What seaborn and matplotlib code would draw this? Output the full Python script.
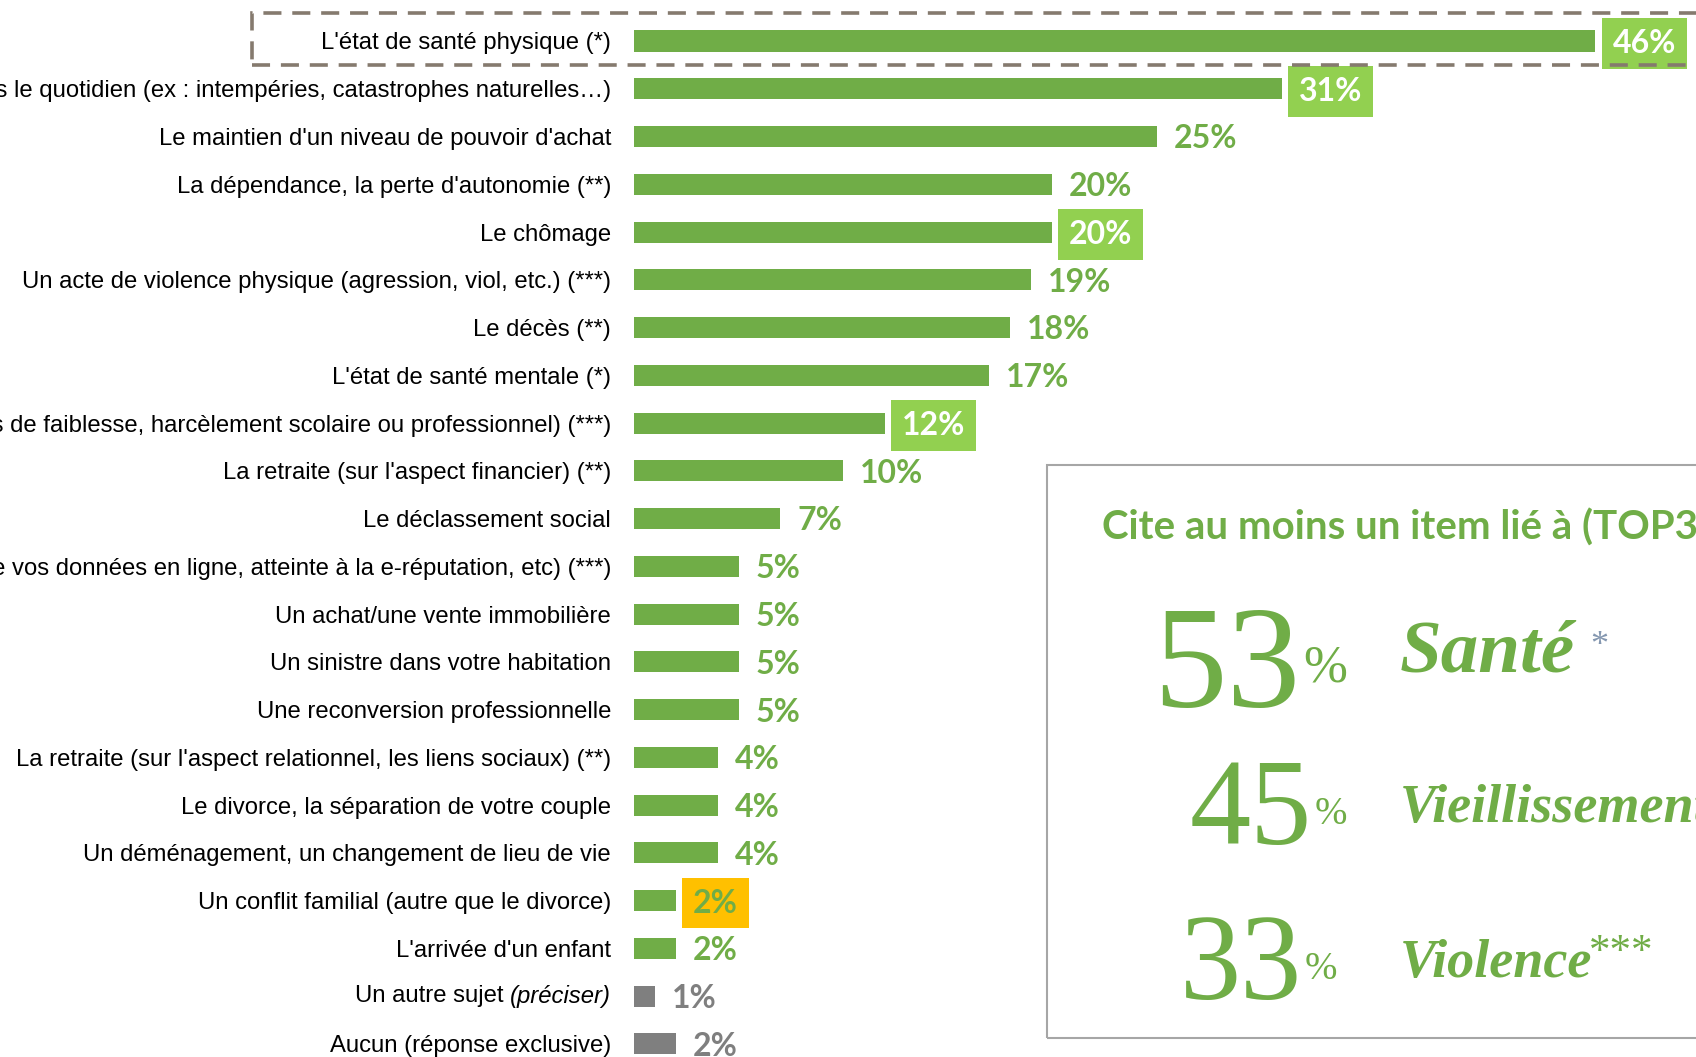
import matplotlib
matplotlib.use("Agg")
import matplotlib.pyplot as plt
import seaborn as sns
import pandas as pd
from matplotlib.patches import Rectangle

# ---- données ----
labels = [
    "L'état de santé physique (*)",
    "Les aléas climatiques dans le quotidien (ex : intempéries, catastrophes naturelles…)",
    "Le maintien d'un niveau de pouvoir d'achat",
    "La dépendance, la perte d'autonomie (**)",
    "Le chômage",
    "Un acte de violence physique (agression, viol, etc.) (***)",
    "Le décès (**)",
    "L'état de santé mentale (*)",
    "Un acte de violence morale (abus de faiblesse, harcèlement scolaire ou professionnel) (***)",
    "La retraite (sur l'aspect financier) (**)",
    "Le déclassement social",
    "Un acte de cyberviolence (vol de vos données en ligne, atteinte à la e-réputation, etc) (***)",
    "Un achat/une vente immobilière",
    "Un sinistre dans votre habitation",
    "Une reconversion professionnelle",
    "La retraite (sur l'aspect relationnel, les liens sociaux) (**)",
    "Le divorce, la séparation de votre couple",
    "Un déménagement, un changement de lieu de vie",
    "Un conflit familial (autre que le divorce)",
    "L'arrivée d'un enfant",
    "Un autre sujet (préciser)",
    "Aucun (réponse exclusive)",
]
values = [46, 31, 25, 20, 20, 19, 18, 17, 12, 10, 7, 5, 5, 5, 5, 4, 4, 4, 2, 2, 1, 2]
# mise en valeur des étiquettes : "vert" = fond vert clair, "jaune" = fond orange
highlight = ["vert", "vert", "", "", "vert", "", "", "", "vert", "", "", "", "", "",
             "", "", "", "", "jaune", "", "", ""]
grey_rows = ["Un autre sujet (préciser)", "Aucun (réponse exclusive)"]

top_pcts = ["53", "45", "33"]
top_words = ["Santé", "Vieillissement", "Violence"]

GREEN = "#70AD47"
LIGHT = "#92D050"
GREY = "#7F7F7F"
ORANGE = "#FFC000"

W, H = 1696, 1057
fig = plt.figure(figsize=(W / 100, H / 100), dpi=100)
sns.set_style("white")
plt.rcParams["font.family"] = ["Liberation Sans", "DejaVu Sans"]


def fx(x):
    return x / W


def fy(y):
    return 1 - y / H


# axe des barres : gauche à 634 px, 20.9 px par point
px_per = 20.9
row = 47.76
ax_left, ax_top = 634, 41 - row / 2
ax_bottom = ax_top + row * len(labels)
ax = fig.add_axes([fx(ax_left), fy(ax_bottom), 1 - fx(ax_left), (ax_bottom - ax_top) / H])

df = pd.DataFrame({"label": labels, "value": values})
colors = [GREY if l in grey_rows else GREEN for l in labels]
sns.barplot(data=df, x="value", y="label", hue="label", palette=colors, legend=False,
            width=0.44, saturation=1, linewidth=0, ax=ax)
ax.set_xlim(0, (W - ax_left) / px_per)
ax.set_ylim(len(labels) - 0.5, -0.5)
ax.set_xlabel("")
ax.set_ylabel("")
ax.set_xticks([])
sns.despine(ax=ax, left=True, bottom=True)
lab_size = 17.2
ax.tick_params(axis="y", length=0, pad=16.5, labelsize=lab_size, labelcolor="black")

# libellé avec partie en italique
tl = ax.get_yticklabels()
for t in tl:
    if t.get_text() == "Un autre sujet (préciser)":
        t.set_text("")
ax.set_yticklabels([t.get_text() for t in tl])
idx = labels.index("Un autre sujet (préciser)")
it = ax.annotate("(préciser)", xy=(0, idx), xycoords=("axes fraction", "data"),
                 xytext=(-16.5, 0), textcoords="offset points", ha="right", va="center",
                 fontsize=lab_size, style="italic", color="black")
ax.annotate("Un autre sujet ", xy=(0, 0.5), xycoords=it, ha="right", va="center",
            fontsize=lab_size, color="black")

# étiquettes de valeurs
gap = 17 / px_per
for i, (v, h, l) in enumerate(zip(values, highlight, labels)):
    col = GREY if l in grey_rows else GREEN
    kw = dict(fontsize=23, fontweight="bold", family=["Lato", "DejaVu Sans"],
              va="center", ha="left")
    y = i + 0.05
    if h == "vert":
        ax.text(v + gap, y, f"{v}%", color="white",
                bbox=dict(boxstyle="square,pad=0.34", fc=LIGHT, ec="none"), **kw)
    elif h == "jaune":
        ax.text(v + gap, y, f"{v}%", color=GREEN,
                bbox=dict(boxstyle="square,pad=0.34", fc=ORANGE, ec="none"), **kw)
    else:
        ax.text(v + gap, y, f"{v}%", color=col, **kw)

# cadre pointillé autour de la première ligne
fig.patches.append(Rectangle((fx(252), fy(65)), fx(1800) - fx(252), (65 - 13) / H,
                             transform=fig.transFigure, fill=False, ec="#857A6E",
                             lw=2.6, ls=(0, (5, 3)), zorder=0))

# encadré de droite
fig.patches.append(Rectangle((fx(1047), fy(1038)), fx(1800) - fx(1047), (1038 - 465) / H,
                             transform=fig.transFigure, fill=False, ec="#A6A6A6",
                             lw=1.5, zorder=0))
fig.text(fx(1102), fy(540), "Cite au moins un item lié à (TOP3)", color=GREEN,
         fontsize=29, fontweight="bold", family=["Lato", "DejaVu Sans"], va="baseline")

serif = ["Liberation Serif", "DejaVu Serif"]
num_x = [1300, 1312, 1302]
base_y = [707, 844, 999]
num_size = [106, 88, 88]
pct_size = [38, 28, 28]
word_size = [54, 39, 39]
word_base = [671, 822, 977]
for k in range(3):
    fig.text(fx(num_x[k]), fy(base_y[k]), top_pcts[k], color=GREEN, fontsize=num_size[k],
             family=serif, ha="right", va="baseline")
    fig.text(fx(num_x[k] + 3), fy(base_y[k] - (26 if k == 0 else 20)), "%", color=GREEN,
             fontsize=pct_size[k], family=serif, ha="left", va="baseline")
    fig.text(fx(1400), fy(word_base[k]), top_words[k], color=GREEN, fontsize=word_size[k],
             family=serif, style="italic", fontweight="bold", ha="left", va="baseline")
fig.text(fx(1590), fy(655), "*", color="#8497B0", fontsize=26, family=serif, va="baseline")
fig.text(fx(1589), fy(963), "***", color=GREEN, fontsize=31, family=serif, va="baseline")

fig.savefig("out.png", dpi=100)
